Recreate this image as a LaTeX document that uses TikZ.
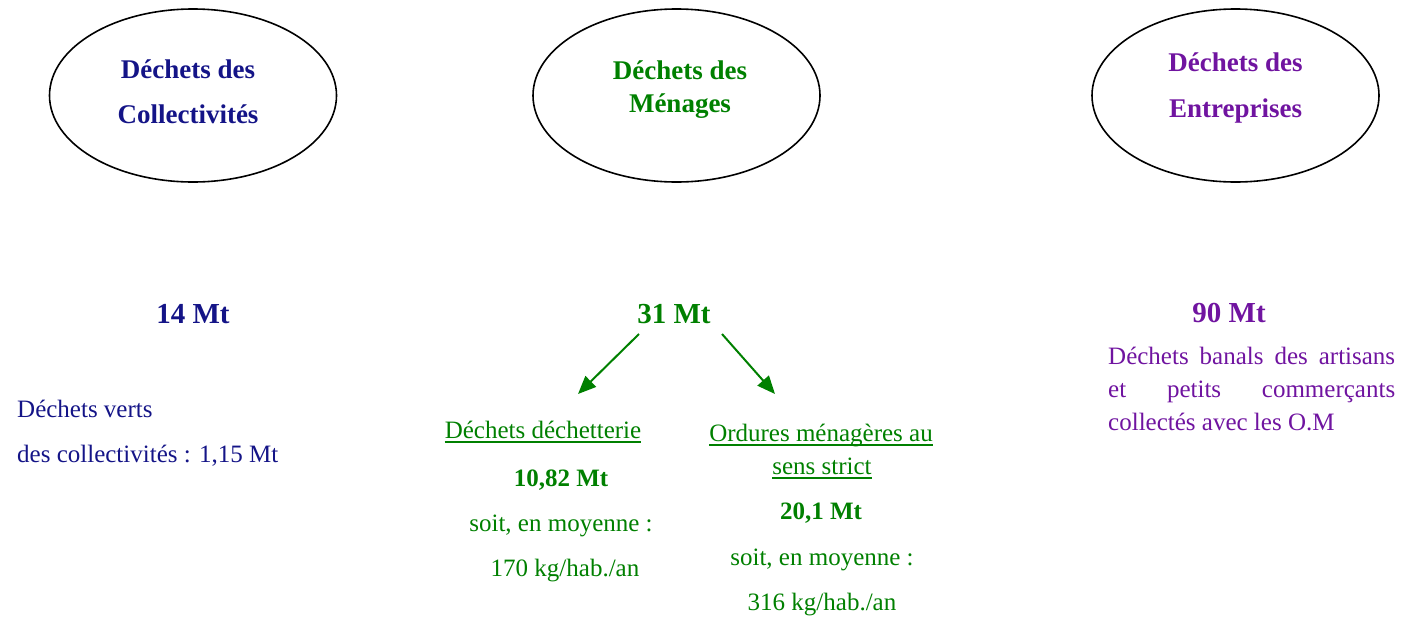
\documentclass[tikz,border=0pt]{standalone}
\usepackage{fontspec}
\setmainfont{Liberation Serif}
\usetikzlibrary{shapes.geometric,arrows.meta}
\definecolor{navyc}{RGB}{20,20,135}
\definecolor{greenc}{RGB}{0,128,0}
\definecolor{purplec}{RGB}{112,20,160}
\begin{document}
\begin{tikzpicture}[x=1pt,y=-1pt,
  bubble/.style={draw=black,line width=1.6pt,ellipse,minimum width=287pt,minimum height=173pt,inner sep=0pt},
  txt/.style={inner sep=0pt,anchor=base},
  txtl/.style={inner sep=0pt,anchor=base west},
  head/.style={txt,font=\fontsize{27}{30}\selectfont\bfseries},
  big/.style={txt,font=\fontsize{29}{32}\selectfont\bfseries},
  mid/.style={txt,font=\fontsize{25}{28}\selectfont\bfseries},
  reg/.style={txt,font=\fontsize{25}{28}\selectfont},
  regl/.style={txtl,font=\fontsize{25}{28}\selectfont},
  uline/.style={draw=greenc,line width=1.4pt},
  arr/.style={draw=greenc,line width=2pt,-{Triangle[length=18pt,width=15pt]}}
]
\useasboundingbox (0,0) rectangle (1412,616);

% ellipses
\node[bubble] (e1) at (193,95.5) {};
\node[bubble] (e2) at (676.5,95.5) {};
\node[bubble] (e3) at (1235.5,95.5) {};

\node[head,text=navyc] (e1a) at (188,78) {Déchets des};
\node[head,text=navyc] (e1b) at (188,123) {Collectivités};
\node[head,text=greenc] (e2a) at (680,79) {Déchets des};
\node[head,text=greenc] (e2b) at (680,112) {Ménages};
\node[head,text=purplec] (e3a) at (1235.5,71) {Déchets des};
\node[head,text=purplec] (e3b) at (1235.5,117) {Entreprises};

% totals
\node[big,text=navyc] (t1) at (193,323) {14 Mt};
\node[big,text=greenc] (t2) at (674,323) {31 Mt};
\node[big,text=purplec] (t3) at (1229,322) {90 Mt};

% left column
\node[regl,text=navyc] (l1) at (17,417) {Déchets verts};
\node[regl,text=navyc] (l2) at (17,462) {des collectivités : 1,15 Mt};

% middle column
\node[reg,text=greenc] (m1) at (543,438) {Déchets déchetterie};
\node[mid,text=greenc] (m2) at (561,486) {10,82 Mt};
\node[reg,text=greenc] (m3) at (561,531) {soit, en moyenne :};
\node[reg,text=greenc] (m4) at (565,576) {170 kg/hab./an};

\node[reg,text=greenc] (o1) at (821,441) {Ordures ménagères au};
\node[reg,text=greenc] (o2) at (822,474) {sens strict};
\node[mid,text=greenc] (o3) at (821,519) {20,1 Mt};
\node[reg,text=greenc] (o4) at (822,565) {soit, en moyenne :};
\node[reg,text=greenc] (o5) at (822,610) {316 kg/hab./an};

% underlines
\draw[uline] ([yshift=-4pt]m1.base west) -- ([yshift=-4pt]m1.base east);
\draw[uline] ([yshift=-4pt]o1.base west) -- ([yshift=-4pt]o1.base east);
\draw[uline] ([yshift=-4pt]o2.base west) -- ([yshift=-4pt]o2.base east);

% right column
\node[regl,text=purplec] (r1) at (1108,364) {\makebox[287pt][s]{Déchets banals des artisans}};
\node[regl,text=purplec] (r2) at (1108,397) {\makebox[287pt][s]{et petits commerçants}};
\node[regl,text=purplec] (r3) at (1108,430) {collectés avec les O.M};

% arrows
\coordinate (a1s) at (639,334);
\coordinate (a1e) at (578,394);
\coordinate (a2s) at (722,334);
\coordinate (a2e) at (775,394);
\draw[arr] (a1s) -- (a1e);
\draw[arr] (a2s) -- (a2e);
\end{tikzpicture}
\end{document}
